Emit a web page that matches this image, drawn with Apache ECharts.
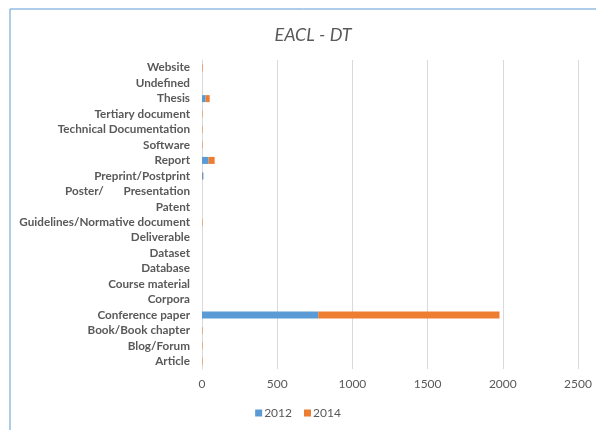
<!DOCTYPE html>
<html>
<head>
<meta charset="utf-8">
<script src="https://cdn.jsdelivr.net/npm/echarts@6/dist/echarts.min.js"></script>
<style>
  html, body { margin: 0; padding: 0; background: #ffffff; }
  #chart { width: 596px; height: 430px; }
</style>
</head>
<body>
<div id="chart"></div>
<script>
// Document types, listed bottom-to-top on the category axis
const categories = [
  'Article', 'Blog/Forum', 'Book/Book chapter', 'Conference paper', 'Corpora',
  'Course material', 'Database', 'Dataset', 'Deliverable',
  'Guidelines/Normative document', 'Patent', 'Poster/       Presentation',
  'Preprint/Postprint', 'Report', 'Software', 'Technical Documentation',
  'Tertiary document', 'Thesis', 'Undefined', 'Website'
];
const values2012 = [0, 0, 0, 773, 0, 0, 0, 0, 0, 0, 0, 0, 8, 44, 0, 0, 0, 24, 0, 0];
const values2014 = [3, 3, 3, 1205, 0, 0, 0, 0, 0, 3, 0, 0, 2, 40, 3, 3, 3, 27, 0, 4];
const xTicks = [0, 500, 1000, 1500, 2000, 2500];

const chart = echarts.init(document.getElementById('chart'), null, { renderer: 'canvas' });
const fontFamily = 'Lato, "Open Sans", sans-serif';

chart.setOption({
  backgroundColor: '#ffffff',
  animation: false,
  graphic: [{
    type: 'rect',
    shape: { x: 10, y: 9, width: 700, height: 600 },
    style: { fill: 'none', stroke: '#5B9BD5', lineWidth: 1 },
    silent: true, z: -1
  }],
  title: {
    text: 'EACL - DT',
    left: 308, top: 21, textAlign: 'center',
    textStyle: { fontFamily: fontFamily, fontStyle: 'italic', fontWeight: 'normal', fontSize: 18, color: '#595959' }
  },
  legend: {
    bottom: 6, left: 'center',
    itemWidth: 7, itemHeight: 7, itemGap: 12,
    icon: 'rect',
    textStyle: { fontFamily: fontFamily, fontSize: 12, color: '#595959', padding: [0, 0, 0, -3] },
    data: ['2012', '2014']
  },
  grid: { left: 202, right: 18, top: 60, bottom: 61, containLabel: false },
  xAxis: {
    type: 'value',
    min: xTicks[0], max: xTicks[xTicks.length - 1], interval: 500,
    axisLine: { show: false },
    axisTick: { show: false },
    splitLine: { lineStyle: { color: '#d9d9d9', width: 1 } },
    axisLabel: { fontFamily: fontFamily, fontSize: 12, color: '#595959', margin: 9, formatter: v => String(v) }
  },
  yAxis: {
    type: 'category',
    data: categories,
    axisLine: { show: true, lineStyle: { color: '#d9d9d9' } },
    axisTick: { show: false },
    axisLabel: { fontFamily: fontFamily, fontSize: 11.7, fontWeight: 'bold', color: '#595959', margin: 12, interval: 0 }
  },
  series: [
    { name: '2012', type: 'bar', stack: 'total', data: values2012, barWidth: 7, itemStyle: { color: '#5B9BD5' } },
    { name: '2014', type: 'bar', stack: 'total', data: values2014, barWidth: 7, itemStyle: { color: '#ED7D31' } }
  ]
});
</script>
</body>
</html>
